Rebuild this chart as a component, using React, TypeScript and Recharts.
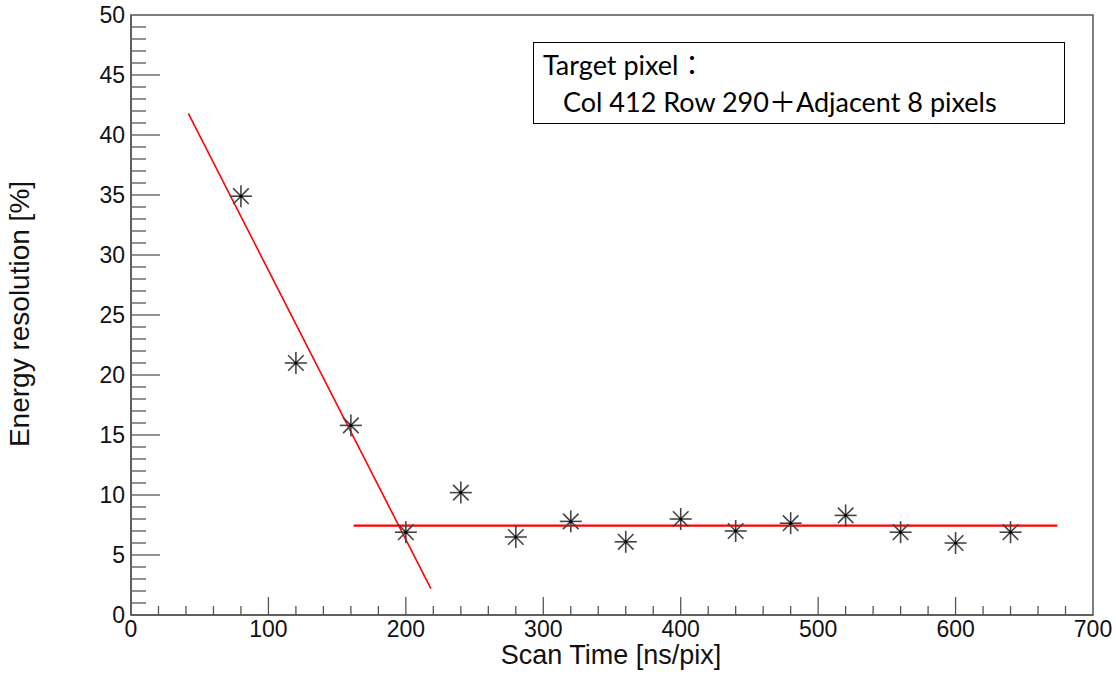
import React from 'react';
import { ComposedChart, XAxis, YAxis, Scatter, ReferenceLine, ReferenceArea } from 'recharts';

const scanTimes = [80, 120, 160, 200, 240, 280, 320, 360, 400, 440, 480, 520, 560, 600, 640];
const resolutions = [34.9, 21.0, 15.8, 6.9, 10.2, 6.5, 7.8, 6.1, 8.0, 7.0, 7.65, 8.3, 6.9, 6.0, 6.9];
const fitSteep = [
  { x: 41.7, y: 41.8 },
  { x: 218.2, y: 2.2 },
];
const fitFlat = [
  { x: 162, y: 7.45 },
  { x: 674, y: 7.45 },
];
const xTicks = Array.from({ length: 36 }, (_, i) => i * 20);
const yTicks = Array.from({ length: 51 }, (_, i) => i);
const xTitle = 'Scan Time [ns/pix]';
const yTitle = 'Energy resolution [%]';
const legendLine1 = 'Target pixel：';
const legendLine2 = 'Col 412 Row 290＋Adjacent 8 pixels';

const data = scanTimes.map((x, i) => ({ x, y: resolutions[i] }));

const AXIS_FONT = "'Liberation Sans', Arial, sans-serif";
const AXIS_COLOR = '#555';

const renderXTick = (props: any) => {
  const { x, y, payload } = props;
  const v = payload.value;
  const major = v % 100 === 0;
  return (
    <g key={`xt-${v}`}>
      {v !== 0 && v !== 700 && (
        <line x1={x} x2={x} y1={y} y2={y - (major ? 18 : 9)} stroke={AXIS_COLOR} strokeWidth={1.3} />
      )}
      {major && (
        <text x={x} y={y + 22} textAnchor="middle" fontSize={23} fontFamily={AXIS_FONT} fill="#111">
          {v}
        </text>
      )}
    </g>
  );
};

const renderYTick = (props: any) => {
  const { x, y, payload } = props;
  const v = payload.value;
  const major = v % 5 === 0;
  return (
    <g key={`yt-${v}`}>
      {v !== 0 && v !== 50 && (
        <line x1={x} x2={x + (major ? 29 : 15)} y1={y} y2={y} stroke={AXIS_COLOR} strokeWidth={1.3} />
      )}
      {major && (
        <text x={x - 6} y={y + 8} textAnchor="end" fontSize={23} fontFamily={AXIS_FONT} fill="#111">
          {v}
        </text>
      )}
    </g>
  );
};

const Asterisk = (props: any) => {
  const { cx, cy } = props;
  const r = 11;
  const d = r * 0.7071;
  return (
    <g stroke="#444" strokeWidth={1.6}>
      <line x1={cx - r} x2={cx + r} y1={cy} y2={cy} />
      <line x1={cx} x2={cx} y1={cy - r} y2={cy + r} />
      <line x1={cx - d} x2={cx + d} y1={cy - d} y2={cy + d} />
      <line x1={cx - d} x2={cx + d} y1={cy + d} y2={cy - d} />
      <circle cx={cx} cy={cy} r={1.6} fill="#000" stroke="none" />
    </g>
  );
};

export default function App() {
  return (
    <div style={{ position: 'absolute', left: 0, top: 0, width: 1116, height: 675, background: '#fff' }}>
      <ComposedChart
        width={1116}
        height={675}
        margin={{ top: 15, right: 23, left: 0, bottom: 0 }}
      >
        <XAxis
          type="number"
          dataKey="x"
          domain={[0, 700]}
          ticks={xTicks}
          interval={0}
          tickSize={0}
          tickMargin={0}
          tickLine={false}
          height={60}
          axisLine={{ stroke: AXIS_COLOR, strokeWidth: 1.5 }}
          tick={renderXTick}
          allowDataOverflow
        />
        <YAxis
          type="number"
          dataKey="y"
          domain={[0, 50]}
          ticks={yTicks}
          interval={0}
          tickSize={0}
          tickMargin={0}
          tickLine={false}
          width={131}
          axisLine={{ stroke: AXIS_COLOR, strokeWidth: 1.5 }}
          tick={renderYTick}
          allowDataOverflow
        />
        <ReferenceArea x1={0} x2={700} y1={0} y2={50} fill="none" stroke={AXIS_COLOR} strokeWidth={1.5} />
        <ReferenceLine segment={fitSteep} stroke="#ff0000" strokeWidth={1.6} />
        <ReferenceLine segment={fitFlat} stroke="#ff0000" strokeWidth={2.2} />
        <Scatter data={data} dataKey="y" shape={<Asterisk />} isAnimationActive={false} />
      </ComposedChart>
      <div
        style={{
          position: 'absolute',
          left: 611,
          top: 642,
          transform: 'translateX(-50%)',
          fontFamily: AXIS_FONT,
          fontSize: 27,
          color: '#111',
          lineHeight: '27px',
          whiteSpace: 'nowrap',
        }}
      >
        {xTitle}
      </div>
      <div
        style={{
          position: 'absolute',
          left: 20,
          top: 314,
          transform: 'translate(-50%, -50%) rotate(-90deg)',
          fontFamily: AXIS_FONT,
          fontSize: 28,
          color: '#111',
          whiteSpace: 'nowrap',
          lineHeight: '32px',
        }}
      >
        {yTitle}
      </div>
      <div
        style={{
          position: 'absolute',
          left: 533,
          top: 42,
          width: 532,
          height: 82,
          border: '1.5px solid #000',
          fontFamily: "Lato, 'Noto Sans CJK JP', sans-serif",
          fontSize: 27,
          color: '#000',
          lineHeight: '36px',
          boxSizing: 'border-box',
        }}
      >
        <div style={{ position: 'absolute', left: 9, top: 4, whiteSpace: 'nowrap' }}>{legendLine1}</div>
        <div style={{ position: 'absolute', left: 29, top: 41, whiteSpace: 'nowrap' }}>{legendLine2}</div>
      </div>
    </div>
  );
}
